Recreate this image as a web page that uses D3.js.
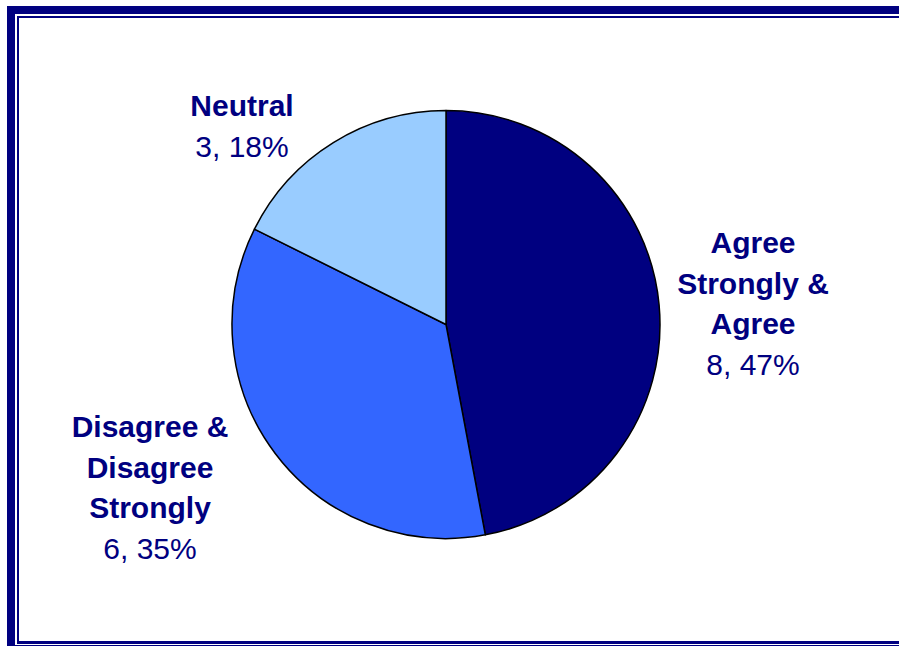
<!DOCTYPE html>
<html>
<head>
<meta charset="utf-8">
<script src="https://cdn.jsdelivr.net/npm/d3@7"></script>
<style>
  html, body { margin: 0; padding: 0; background: #fff; }
  svg { display: block; }
</style>
</head>
<body>
<svg id="chart" width="899" height="646"></svg>
<script>
// Survey responses, in clockwise order from 12 o'clock
const categories = ["Agree Strongly & Agree", "Disagree & Disagree Strongly", "Neutral"];
const counts = [8, 6, 3];
const percents = [47, 35, 18];
const labelLines = [
  ["Agree", "Strongly &", "Agree"],
  ["Disagree &", "Disagree", "Strongly"],
  ["Neutral"]
];
const colors = ["#000080", "#3366FF", "#99CCFF"];

const svg = d3.select("#chart");
const W = 899, H = 646;
const navy = "#000080";

// Double frame: heavy outer band, thin inner rule
const frame = svg.append("g");
frame.append("rect").attr("x", 7).attr("y", 6).attr("width", W).attr("height", 8).attr("fill", navy);
frame.append("rect").attr("x", 7).attr("y", 6).attr("width", 8).attr("height", H).attr("fill", navy);
frame.append("rect").attr("x", 7).attr("y", 645).attr("width", W).attr("height", 8).attr("fill", navy);
frame.append("rect").attr("x", 17).attr("y", 16).attr("width", W).attr("height", 2).attr("fill", navy);
frame.append("rect").attr("x", 17).attr("y", 16).attr("width", 2).attr("height", 628).attr("fill", navy);
frame.append("rect").attr("x", 17).attr("y", 641).attr("width", W).attr("height", 3).attr("fill", navy);

// Pie
const cx = 446, cy = 324.5, r = 214;
const data = categories.map((c, i) => ({ name: c, value: counts[i], pct: percents[i], lines: labelLines[i], color: colors[i] }));
const pie = d3.pie().value(d => d.value).sort(null);
const arc = d3.arc().innerRadius(0).outerRadius(r);
const arcs = pie(data);

const g = svg.append("g").attr("transform", `translate(${cx},${cy})`);
g.selectAll("path").data(arcs).join("path")
  .attr("d", arc)
  .attr("fill", d => d.data.color)
  .attr("stroke", "#000")
  .attr("stroke-width", 1.5)
  .attr("stroke-linejoin", "round");

// Labels outside each slice
const labelPos = [
  { x: 753, y: 253 },
  { x: 150, y: 437 },
  { x: 242, y: 116 }
];
const lineH = 40.7;
const font = "'Liberation Sans', Arial, Helvetica, sans-serif";

arcs.forEach((a, i) => {
  const p = labelPos[i];
  const t = svg.append("text")
    .attr("x", p.x).attr("y", p.y)
    .attr("text-anchor", "middle")
    .attr("font-family", font)
    .attr("font-size", 30)
    .attr("fill", navy);
  a.data.lines.forEach((ln, k) => {
    t.append("tspan").attr("x", p.x).attr("y", p.y + k * lineH)
      .attr("font-weight", "bold").text(ln);
  });
  t.append("tspan").attr("x", p.x).attr("y", p.y + a.data.lines.length * lineH)
    .text(`${a.data.value}, ${a.data.pct}%`);
});
</script>
</body>
</html>
